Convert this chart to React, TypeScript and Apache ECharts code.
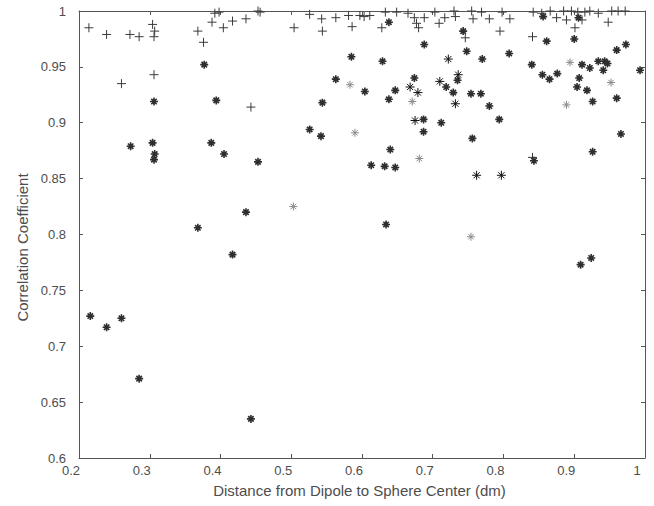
import { useEffect, useRef } from "react";
import * as echarts from "echarts";

// Distance from dipole to sphere centre (dm) vs. correlation coefficient.
const xMin = 0.2;
const xMax = 1.0;
const xStep = 0.1;
const yMin = 0.6;
const yMax = 1.0;
const yStep = 0.05;

// "+" markers
const plusPoints: [number, number][] = [
  [0.214, 0.985], [0.239, 0.979], [0.272, 0.979], [0.285, 0.977], [0.26, 0.935],
  [0.304, 0.988], [0.307, 0.982], [0.306, 0.977], [0.306, 0.943], [0.368, 0.982],
  [0.376, 0.972], [0.388, 0.99], [0.392, 0.998], [0.398, 0.999], [0.404, 0.985],
  [0.417, 0.991], [0.436, 0.993], [0.453, 1.0], [0.456, 0.999], [0.443, 0.914],
  [0.504, 0.985], [0.526, 0.997], [0.543, 0.993], [0.544, 0.982], [0.563, 0.994],
  [0.586, 0.986], [0.581, 0.996], [0.597, 0.996], [0.603, 0.995], [0.611, 0.996],
  [0.628, 0.985], [0.633, 0.999], [0.649, 0.999], [0.665, 0.998], [0.674, 0.994],
  [0.677, 0.989], [0.68, 0.985], [0.688, 0.994], [0.703, 0.999], [0.709, 0.989],
  [0.717, 0.994], [0.732, 0.995], [0.73, 1.0], [0.746, 0.976], [0.755, 1.0],
  [0.757, 0.993], [0.769, 0.999], [0.78, 0.993], [0.795, 0.982], [0.798, 0.999],
  [0.809, 0.993], [0.842, 0.999], [0.854, 0.998], [0.866, 1.0], [0.875, 0.994],
  [0.885, 1.0], [0.889, 0.992], [0.896, 1.0], [0.901, 0.985], [0.905, 0.999],
  [0.911, 0.992], [0.915, 0.999], [0.922, 1.0], [0.934, 0.998], [0.948, 0.99],
  [0.953, 1.0], [0.962, 1.0], [0.972, 1.0], [0.841, 0.977], [0.841, 0.869],
];

// "*" markers (heavy)
const starPoints: [number, number][] = [
  [0.377, 0.952], [0.306, 0.919], [0.394, 0.92], [0.273, 0.879], [0.304, 0.882],
  [0.307, 0.872], [0.306, 0.867], [0.387, 0.882], [0.405, 0.872], [0.453, 0.865],
  [0.542, 0.888], [0.368, 0.806], [0.436, 0.82], [0.417, 0.782], [0.216, 0.727],
  [0.239, 0.717], [0.26, 0.725], [0.285, 0.671], [0.443, 0.635], [0.687, 0.903],
  [0.687, 0.892], [0.712, 0.9], [0.756, 0.886], [0.794, 0.903], [0.64, 0.876],
  [0.613, 0.862], [0.632, 0.861], [0.647, 0.86], [0.843, 0.866], [0.926, 0.874],
  [0.966, 0.89], [0.634, 0.809], [0.924, 0.779], [0.909, 0.773], [0.638, 0.99],
  [0.629, 0.955], [0.688, 0.97], [0.743, 0.982], [0.748, 0.964], [0.77, 0.957],
  [0.808, 0.962], [0.674, 0.94], [0.647, 0.929], [0.638, 0.921], [0.604, 0.928],
  [0.735, 0.938], [0.719, 0.932], [0.729, 0.927], [0.754, 0.926], [0.768, 0.926],
  [0.78, 0.915], [0.585, 0.959], [0.563, 0.939], [0.544, 0.918], [0.856, 0.995],
  [0.906, 0.994], [0.861, 0.973], [0.9, 0.975], [0.96, 0.965], [0.973, 0.97],
  [0.84, 0.952], [0.855, 0.943], [0.865, 0.939], [0.876, 0.944], [0.911, 0.952],
  [0.922, 0.949], [0.934, 0.955], [0.943, 0.955], [0.947, 0.953], [0.941, 0.947],
  [0.907, 0.94], [0.904, 0.932], [0.918, 0.929], [0.926, 0.919], [0.96, 0.922],
  [0.993, 0.947], [0.526, 0.894],
];

// "*" markers (thin, crisp)
const starCrisp: [number, number][] = [
  [0.722, 0.957], [0.71, 0.937], [0.736, 0.943], [0.732, 0.917], [0.675, 0.902],
  [0.762, 0.853], [0.797, 0.853], [0.679, 0.927], [0.668, 0.932],
];

// "*" markers (faint)
const starFaint: [number, number][] = [
  [0.59, 0.891], [0.583, 0.934], [0.681, 0.868], [0.754, 0.798], [0.894, 0.954],
  [0.952, 0.936], [0.889, 0.916], [0.671, 0.919], [0.503, 0.825],
];

const xTitle = "Distance from Dipole to Sphere Center (dm)";
const yTitle = "Correlation Coefficient";

const PLUS = "path://M5,0L5,10M0,5L10,5";
const ASTERISK = "path://M5,0L5,10M0,5L10,5M1.6,1.6L8.4,8.4M8.4,1.6L1.6,8.4";

const FONT = "'Liberation Sans', Arial, Helvetica, sans-serif";
const AXIS_COLOR = "#555";
const TEXT_COLOR = "#4d4d4d";

const fmt = (v: number) => String(+v.toFixed(2));

function markerSeries(
  name: string,
  data: [number, number][],
  symbol: string,
  size: number,
  color: string,
  width: number
) {
  return {
    name,
    type: "scatter",
    data,
    symbol,
    symbolSize: size,
    silent: true,
    itemStyle: { color: "rgba(0,0,0,0)", borderColor: color, borderWidth: width, opacity: 1 },
    emphasis: { disabled: true },
    xAxisIndex: 0,
    yAxisIndex: 0,
  };
}

export default function App() {
  const ref = useRef<HTMLDivElement>(null);

  useEffect(() => {
    if (!ref.current) return;
    const chart = echarts.init(ref.current, null, { renderer: "svg" });

    const baseX = {
      type: "value",
      min: xMin,
      max: xMax,
      interval: xStep,
      splitLine: { show: false },
      axisLine: { show: true, onZero: false, lineStyle: { color: AXIS_COLOR, width: 1 } },
      axisTick: { show: true, inside: true, length: 4, lineStyle: { color: AXIS_COLOR } },
    };
    const baseY = {
      type: "value",
      min: yMin,
      max: yMax,
      interval: yStep,
      splitLine: { show: false },
      axisLine: { show: true, onZero: false, lineStyle: { color: AXIS_COLOR, width: 1 } },
      axisTick: { show: true, inside: true, length: 4, lineStyle: { color: AXIS_COLOR } },
    };

    chart.setOption({
      animation: false,
      backgroundColor: "#fff",
      grid: { left: 79, right: 9, top: 11, bottom: 48, containLabel: false },
      xAxis: [
        {
          ...baseX,
          position: "bottom",
          axisLabel: {
            formatter: fmt,
            color: TEXT_COLOR,
            fontFamily: FONT,
            fontSize: 13,
            margin: 6,
            padding: [0, 16, 0, 0],
          },
          name: xTitle,
          nameLocation: "middle",
          nameGap: 25,
          nameTextStyle: {
            color: TEXT_COLOR,
            fontFamily: FONT,
            fontSize: 15,
            padding: [0, 5, 0, 0],
          },
        },
        { ...baseX, position: "top", axisLabel: { show: false } },
      ],
      yAxis: [
        {
          ...baseY,
          position: "left",
          axisLabel: {
            formatter: fmt,
            color: TEXT_COLOR,
            fontFamily: FONT,
            fontSize: 13,
            margin: 13,
          },
          name: yTitle,
          nameLocation: "middle",
          nameGap: 49,
          nameTextStyle: {
            color: TEXT_COLOR,
            fontFamily: FONT,
            fontSize: 15,
            padding: [0, 26, 0, 0],
          },
        },
        { ...baseY, position: "right", axisLabel: { show: false } },
      ],
      series: [
        markerSeries("plus", plusPoints, PLUS, 9, "#3a3a3a", 1),
        markerSeries("star", starPoints, ASTERISK, 8, "#2e2e2e", 1.6),
        markerSeries("starCrisp", starCrisp, ASTERISK, 9, "#111", 1),
        markerSeries("starFaint", starFaint, ASTERISK, 8, "#8a8a8a", 1),
      ],
    });

    return () => chart.dispose();
  }, []);

  return (
    <div
      ref={ref}
      style={{ position: "fixed", left: 0, top: 0, width: 654, height: 506, background: "#fff" }}
    />
  );
}
